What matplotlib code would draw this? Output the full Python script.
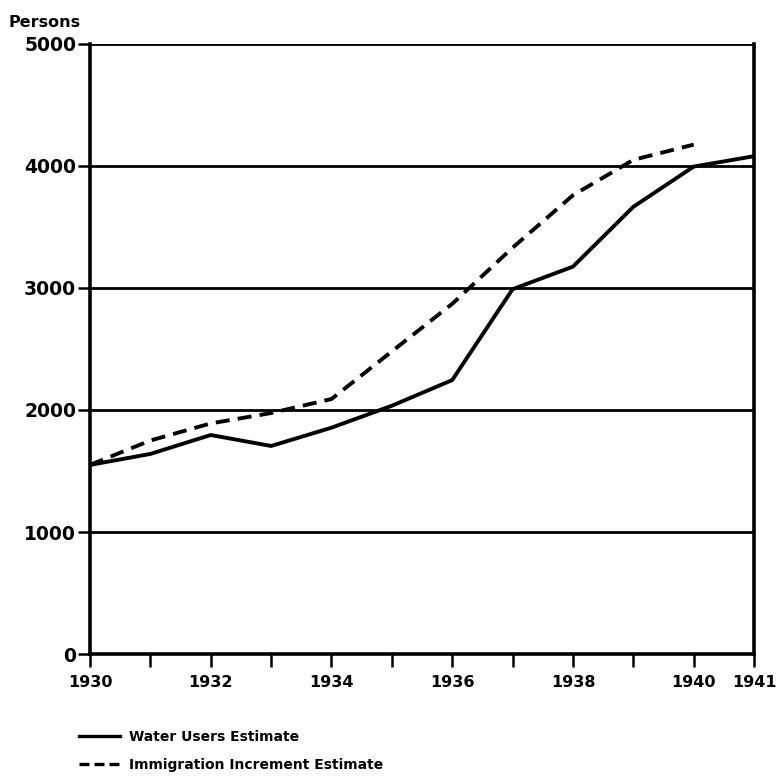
import matplotlib.pyplot as plt
from matplotlib.lines import Line2D

# values
years = [1930, 1931, 1932, 1933, 1934, 1935, 1936, 1937, 1938, 1939, 1940, 1941]
water_users = [1550, 1640, 1795, 1705, 1855, 2035, 2245, 2990, 3175, 3665, 3995, 4080]

imm_years = [1930, 1931, 1932, 1933, 1934, 1935, 1936, 1937, 1938, 1939, 1940]
immigration = [1550, 1750, 1890, 1975, 2090, 2480, 2870, 3330, 3760, 4050, 4175]

xtick_pos = [1930, 1932, 1934, 1936, 1938, 1940, 1941]
yticks = [0, 1000, 2000, 3000, 4000, 5000]

plt.rcParams['font.family'] = ['DejaVu Sans']

fig = plt.figure(figsize=(7.78, 7.81), dpi=100)
ax = fig.add_axes([0.1157, 0.1626, 0.8535, 0.7811])

# horizontal rules
for v in yticks[1:]:
    ax.axhline(v, color='black', lw=2.0, zorder=1)

ax.plot(years, water_users, color='black', lw=2.8, solid_joinstyle='round', zorder=3)
ax.plot(imm_years, immigration, color='black', lw=2.8, linestyle=(0, (3.6, 2.1)), zorder=3)

ax.set_xlim(1930, 1941)
ax.set_ylim(0, 5000)

ax.set_xticks(years)
ax.set_xticklabels([str(y) if y in xtick_pos else '' for y in years],
                   fontsize=11.5, fontweight='bold')
ax.set_yticks(yticks)
ax.set_yticklabels([str(v) for v in yticks], fontsize=13.5, fontweight='bold')
ax.tick_params(axis='x', direction='out', length=9, width=1.8, pad=6)
ax.tick_params(axis='y', direction='out', length=9, width=1.8, pad=1)

ax.spines['top'].set_visible(False)
for s in ['left', 'right', 'bottom']:
    ax.spines[s].set_linewidth(2.6)

fig.text(0.011, 0.962, 'Persons', fontsize=11.5, fontweight='bold', ha='left', va='bottom')

handles = [Line2D([], [], color='black', lw=2.4),
           Line2D([], [], color='black', lw=2.4, linestyle=(0, (3, 1.5)))]
fig.legend(handles, ['Water Users Estimate', 'Immigration Increment Estimate'],
           loc='upper left', bbox_to_anchor=(0.085, 0.081), frameon=False,
           handlelength=3.0, handletextpad=0.6, labelspacing=1.0,
           prop={'size': 10, 'weight': 'bold'})

fig.savefig('out.png', dpi=100)
